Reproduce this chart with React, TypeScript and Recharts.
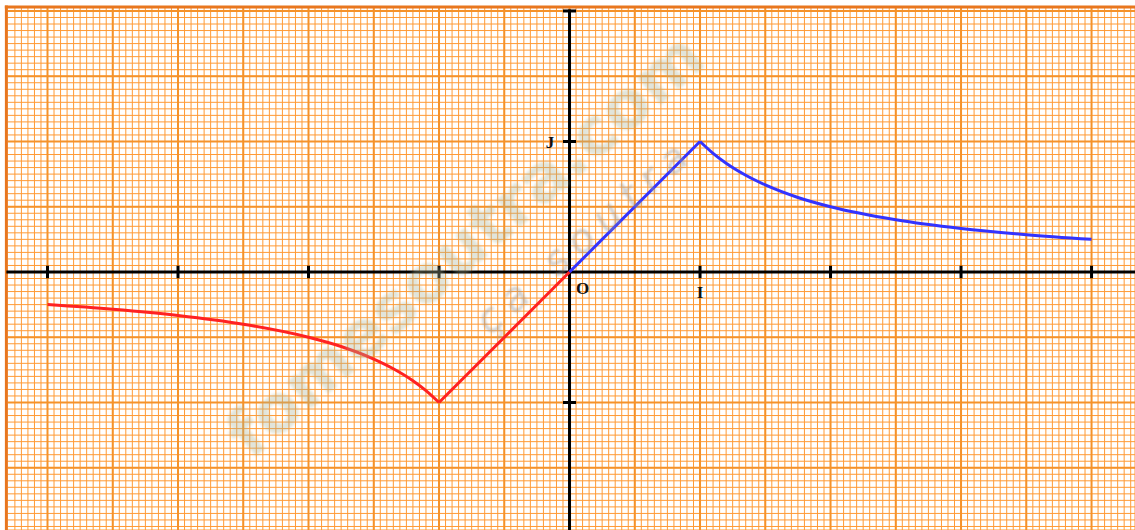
import React from "react";
import {
  LineChart, Line, XAxis, YAxis, CartesianGrid, ReferenceLine, ReferenceDot,
} from "recharts";

// axis window (units of the graph paper)
const X_MIN = -4.364;
const X_MAX = 4.333;
const Y_MIN = -1.977;
const Y_MAX = 2.084;

// red branch
const redCurveX = [-4, -3.5, -3, -2.5, -2, -1.75, -1.5, -1.35, -1.2, -1.1, -1];
const redCurveY = [-0.25, -0.286, -0.333, -0.4, -0.5, -0.571, -0.667, -0.741, -0.833, -0.909, -1];
const redLineX = [-1, 0];
const redLineY = [-1, 0];

// blue branch
const blueLineX = [0, 1];
const blueLineY = [0, 1];
const blueCurveX = [1, 1.1, 1.2, 1.35, 1.5, 1.75, 2, 2.5, 3, 3.5, 4];
const blueCurveY = [1, 0.909, 0.833, 0.741, 0.667, 0.571, 0.5, 0.4, 0.333, 0.286, 0.25];

// axis ticks
const xTicks = [-4, -3, -2, -1, 1, 2, 3, 4];
const yTicks = [-1, 1, 2];

// graph paper
const majorX = [-4, -3.5, -3, -2.5, -2, -1.5, -1, -0.5, 0, 0.5, 1, 1.5, 2, 2.5, 3, 3.5, 4];
const majorY = [-1.5, -1, -0.5, 0, 0.5, 1, 1.5, 2];
const minorX: number[] = [];
for (let i = -85; i <= 86; i++) minorX.push(Math.round(i * 5) / 100);
const minorY: number[] = [];
for (let i = -39; i <= 40; i++) minorY.push(Math.round(i * 5) / 100);

const BORDER_X = -4.315;
const BORDER_Y = 2.03;

const pts = (xs: number[], ys: number[]) => xs.map((x, i) => ({ x, y: ys[i] }));

const Tag = (props: any) => {
  const { viewBox, text, dx, dy } = props;
  if (!viewBox) return null;
  const cx = viewBox.x + (viewBox.width || 0) / 2;
  const cy = viewBox.y + (viewBox.height || 0) / 2;
  return (
    <text
      x={cx + dx}
      y={cy + dy}
      textAnchor="middle"
      fontFamily="'Liberation Serif', 'Times New Roman', serif"
      fontWeight="bold"
      fontSize={17}
      fill="#111"
    >
      {text}
    </text>
  );
};

const lineProps = {
  strokeWidth: 3,
  dot: false,
  activeDot: false,
  isAnimationActive: false,
  dataKey: "y",
};

export default function App() {
  return (
    <div style={{ position: "absolute", left: 0, top: 0, width: 1135, height: 530, background: "#fff", overflow: "hidden" }}>
      <LineChart width={1135} height={530} margin={{ top: 0, right: 0, bottom: 0, left: 0 }}>
        <XAxis type="number" dataKey="x" domain={[X_MIN, X_MAX]} ticks={minorX} interval={0} allowDataOverflow hide />
        <YAxis type="number" dataKey="y" domain={[Y_MIN, Y_MAX]} ticks={minorY} interval={0} allowDataOverflow hide />
        <CartesianGrid stroke="#FF9A35" strokeWidth={1} />
        {majorX.map((v) => (
          <ReferenceLine key={"mx" + v} x={v} stroke="#F5922A" strokeWidth={2} />
        ))}
        {majorY.map((v) => (
          <ReferenceLine key={"my" + v} y={v} stroke="#F5922A" strokeWidth={2} />
        ))}

        {/* white margin outside the paper */}
        <ReferenceLine y={Y_MAX - 0.012} stroke="#fff" strokeWidth={11} />
        <ReferenceLine x={X_MIN + 0.02} stroke="#fff" strokeWidth={10} />
        <ReferenceLine
          segment={[{ x: BORDER_X, y: BORDER_Y + 0.012 }, { x: BORDER_X, y: Y_MIN }]}
          stroke="#E8761E"
          strokeWidth={3}
        />
        <ReferenceLine
          segment={[{ x: BORDER_X - 0.012, y: BORDER_Y }, { x: X_MAX, y: BORDER_Y }]}
          stroke="#E8761E"
          strokeWidth={3}
        />

        {/* axes */}
        <ReferenceLine segment={[{ x: BORDER_X, y: 0 }, { x: X_MAX, y: 0 }]} stroke="#000" strokeWidth={3} />
        <ReferenceLine segment={[{ x: 0, y: 2.012 }, { x: 0, y: Y_MIN }]} stroke="#000" strokeWidth={3} />
        {xTicks.map((v) => (
          <ReferenceLine key={"tx" + v} segment={[{ x: v, y: -0.048 }, { x: v, y: 0.048 }]} stroke="#000" strokeWidth={3} />
        ))}
        {yTicks.map((v) => (
          <ReferenceLine key={"ty" + v} segment={[{ x: -0.05, y: v }, { x: 0.05, y: v }]} stroke="#000" strokeWidth={3} />
        ))}

        <Line {...lineProps} data={pts(redCurveX, redCurveY)} type="monotone" stroke="#FF2222" />
        <Line {...lineProps} data={pts(redLineX, redLineY)} type="linear" stroke="#FF2222" />
        <Line {...lineProps} data={pts(blueLineX, blueLineY)} type="linear" stroke="#3333FF" />
        <Line {...lineProps} data={pts(blueCurveX, blueCurveY)} type="monotone" stroke="#3333FF" />

        <ReferenceDot x={0} y={0} r={1} fill="none" stroke="none" label={<Tag text="O" dx={13} dy={22} />} />
        <ReferenceDot x={1} y={0} r={1} fill="none" stroke="none" label={<Tag text="I" dx={0} dy={26.5} />} />
        <ReferenceDot x={0} y={1} r={1} fill="none" stroke="none" label={<Tag text="J" dx={-19.5} dy={6.5} />} />
      </LineChart>

      {/* watermark */}
      <div
        style={{
          position: "absolute",
          left: 465,
          top: 245,
          transform: "translate(-50%, -50%) rotate(-41deg)",
          fontFamily: "'DejaVu Sans', sans-serif",
          fontWeight: "bold",
          fontSize: 66,
          color: "#A8B294",
          opacity: 0.34,
          filter: "blur(1.5px)",
          whiteSpace: "nowrap",
          pointerEvents: "none",
        }}
      >
        fomesoutra.com
      </div>
      <div
        style={{
          position: "absolute",
          left: 585,
          top: 235,
          transform: "translate(-50%, -50%) rotate(-41deg)",
          fontFamily: "'DejaVu Sans', sans-serif",
          fontStyle: "italic",
          fontSize: 40,
          letterSpacing: 10,
          color: "#999999",
          opacity: 0.45,
          filter: "blur(0.8px)",
          whiteSpace: "nowrap",
          pointerEvents: "none",
        }}
      >
        ça soutra
      </div>
    </div>
  );
}
